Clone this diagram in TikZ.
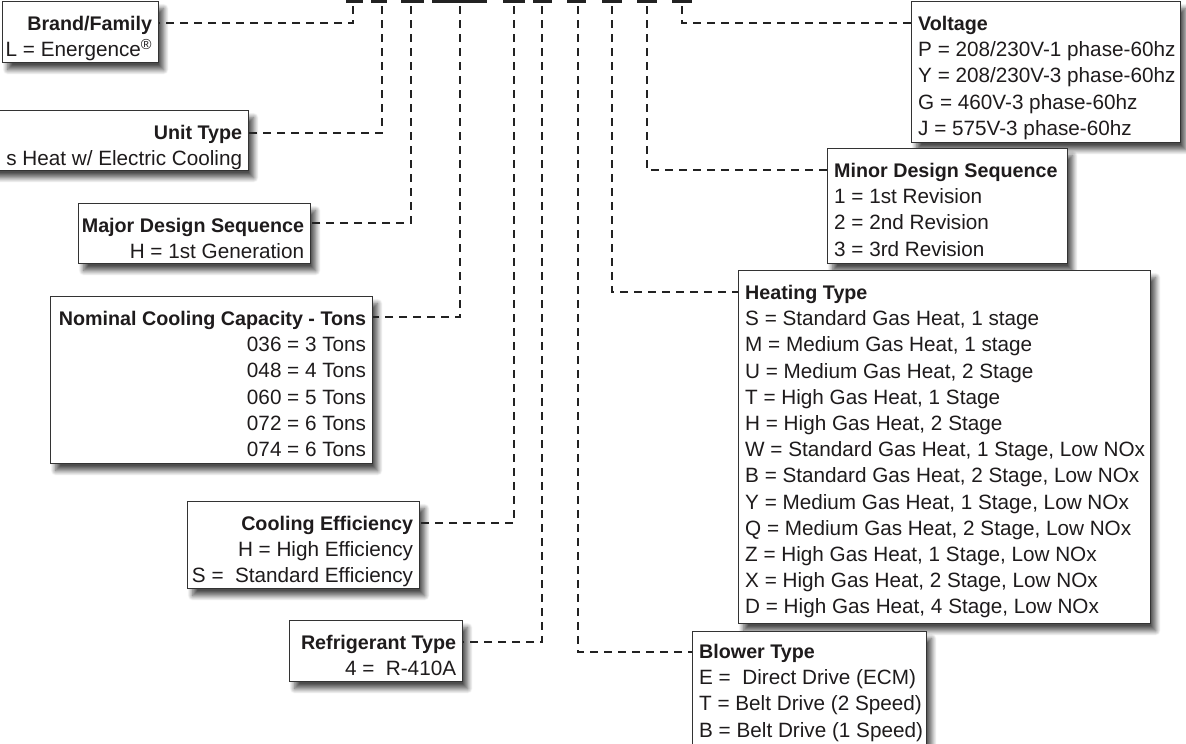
\documentclass[tikz,border=0pt]{standalone}
\usepackage{fontspec}
\setmainfont{Liberation Sans}
\usetikzlibrary{shadows.blur}
\definecolor{txt}{HTML}{1E1B1C}
\definecolor{edge}{HTML}{333333}
\definecolor{dsh}{HTML}{222222}
\newcommand{\ttl}[1]{{\bfseries\fontsize{19.7}{26.2}\selectfont #1}}
\tikzset{
  box/.style={draw=edge, line width=1.3pt, fill=white, inner sep=0pt, anchor=north west,
    blur shadow={shadow xshift=5pt, shadow yshift=-7pt, shadow blur radius=5pt, shadow blur steps=12, shadow opacity=70}},
  btext/.style={inner sep=0pt, text=txt, font=\fontsize{20.7}{26.2}\selectfont},
  ltext/.style={btext, align=right, anchor=north east},
  rtext/.style={btext, align=left, anchor=north west},
  conn/.style={draw=dsh, line width=2.4pt, dash pattern=on 8pt off 6pt},
  bar/.style={draw=dsh, line width=3pt}
}
\begin{document}
\begin{tikzpicture}[x=1pt, y=-1pt]
\useasboundingbox (0,0) rectangle (1186,744);
\clip (0,0) rectangle (1186,744);
% top bars
\foreach \a/\b in {346/363, 371/387, 401/424, 432/487, 503/525, 533/552, 567/586, 602/622, 637/657, 672/692}
  \draw[bar] (\a,1.3) -- (\b,1.3);
% left side boxes
\node[box, minimum width=156pt, minimum height=61pt] (brand) at (2,1) {};
\node[ltext] (brandt) at ([xshift=-7pt, yshift=-15pt]brand.north east)
  {\ttl{Brand/Family}\\L = Energence\textsuperscript{®}};
\node[box, minimum width=268pt, minimum height=60pt] (unit) at (-20,110) {};
\node[ltext] (unitt) at ([xshift=-7pt, yshift=-15pt]unit.north east)
  {\ttl{Unit Type}\\s Heat w/ Electric Cooling};
\node[box, minimum width=232pt, minimum height=60pt] (major) at (78,203) {};
\node[ltext] (majort) at ([xshift=-7pt, yshift=-15pt]major.north east)
  {\ttl{Major Design Sequence}\\H = 1st Generation};
\node[box, minimum width=322pt, minimum height=167pt] (nominal) at (50,296) {};
\node[ltext] (nominalt) at ([xshift=-7pt, yshift=-15pt]nominal.north east)
  {\ttl{Nominal Cooling Capacity - Tons}\\036 = 3 Tons\\048 = 4 Tons\\060 = 5 Tons\\072 = 6 Tons\\074 = 6 Tons};
\node[box, minimum width=232pt, minimum height=87pt] (cooling) at (187,501) {};
\node[ltext] (coolingt) at ([xshift=-7pt, yshift=-15pt]cooling.north east)
  {\ttl{Cooling Efficiency}\\H = High Efficiency\\S =\ \ Standard Efficiency};
\node[box, minimum width=173pt, minimum height=61pt] (refrig) at (289,620) {};
\node[ltext] (refrigt) at ([xshift=-7pt, yshift=-15pt]refrig.north east)
  {\ttl{Refrigerant Type}\\4 =\ \ R-410A};
% right side boxes
\node[box, minimum width=269pt, minimum height=141pt] (voltage) at (911,1) {};
\node[rtext] (voltaget) at ([xshift=7pt, yshift=-15pt]voltage.north west)
  {\ttl{Voltage}\\P = 208/230V-1 phase-60hz\\Y = 208/230V-3 phase-60hz\\G = 460V-3 phase-60hz\\J = 575V-3 phase-60hz};
\node[box, minimum width=240pt, minimum height=115pt] (minor) at (827,148) {};
\node[rtext] (minort) at ([xshift=7pt, yshift=-15pt]minor.north west)
  {\ttl{Minor Design Sequence}\\1 = 1st Revision\\2 = 2nd Revision\\3 = 3rd Revision};
\node[box, minimum width=412pt, minimum height=353pt] (heating) at (738,270) {};
\node[rtext] (heatingt) at ([xshift=7pt, yshift=-15pt]heating.north west)
  {\ttl{Heating Type}\\S = Standard Gas Heat, 1 stage\\M = Medium Gas Heat, 1 stage\\U = Medium Gas Heat, 2 Stage\\T = High Gas Heat, 1 Stage\\H = High Gas Heat, 2 Stage\\W = Standard Gas Heat, 1 Stage, Low NOx\\B = Standard Gas Heat, 2 Stage, Low NOx\\Y = Medium Gas Heat, 1 Stage, Low NOx\\Q = Medium Gas Heat, 2 Stage, Low NOx\\Z = High Gas Heat, 1 Stage, Low NOx\\X = High Gas Heat, 2 Stage, Low NOx\\D = High Gas Heat, 4 Stage, Low NOx};
\node[box, minimum width=234pt, minimum height=124pt] (blower) at (692,631) {};
\node[rtext] (blowert) at ([xshift=7pt, yshift=-13pt]blower.north west)
  {\ttl{Blower Type}\\E =\ \ Direct Drive (ECM)\\T = Belt Drive (2 Speed)\\B = Belt Drive (1 Speed)};
% connector start points under the bars
\coordinate (t1) at (353,6);
\coordinate (t2) at (382,6);
\coordinate (t3) at (411,6);
\coordinate (t4) at (460,6);
\coordinate (t5) at (514,6);
\coordinate (t6) at (542,6);
\coordinate (t7) at (578,6);
\coordinate (t8) at (612,6);
\coordinate (t9) at (647,6);
\coordinate (t10) at (682,6);
% connectors
\draw[conn] (t1) |- (brand.east |- 0,23);
\draw[conn] (t2) |- (unit.east |- 0,133);
\draw[conn] (t3) |- (major.east |- 0,223);
\draw[conn] (t4) |- (nominal.east |- 0,317);
\draw[conn] (t5) |- (cooling.east |- 0,523);
\draw[conn] (t6) |- (refrig.east |- 0,642);
\draw[conn] (t7) |- (blower.west |- 0,652);
\draw[conn] (t8) |- (heating.west |- 0,292);
\draw[conn] (t9) |- (minor.west |- 0,170);
\draw[conn] (t10) |- (voltage.west |- 0,23);
\end{tikzpicture}
\end{document}
